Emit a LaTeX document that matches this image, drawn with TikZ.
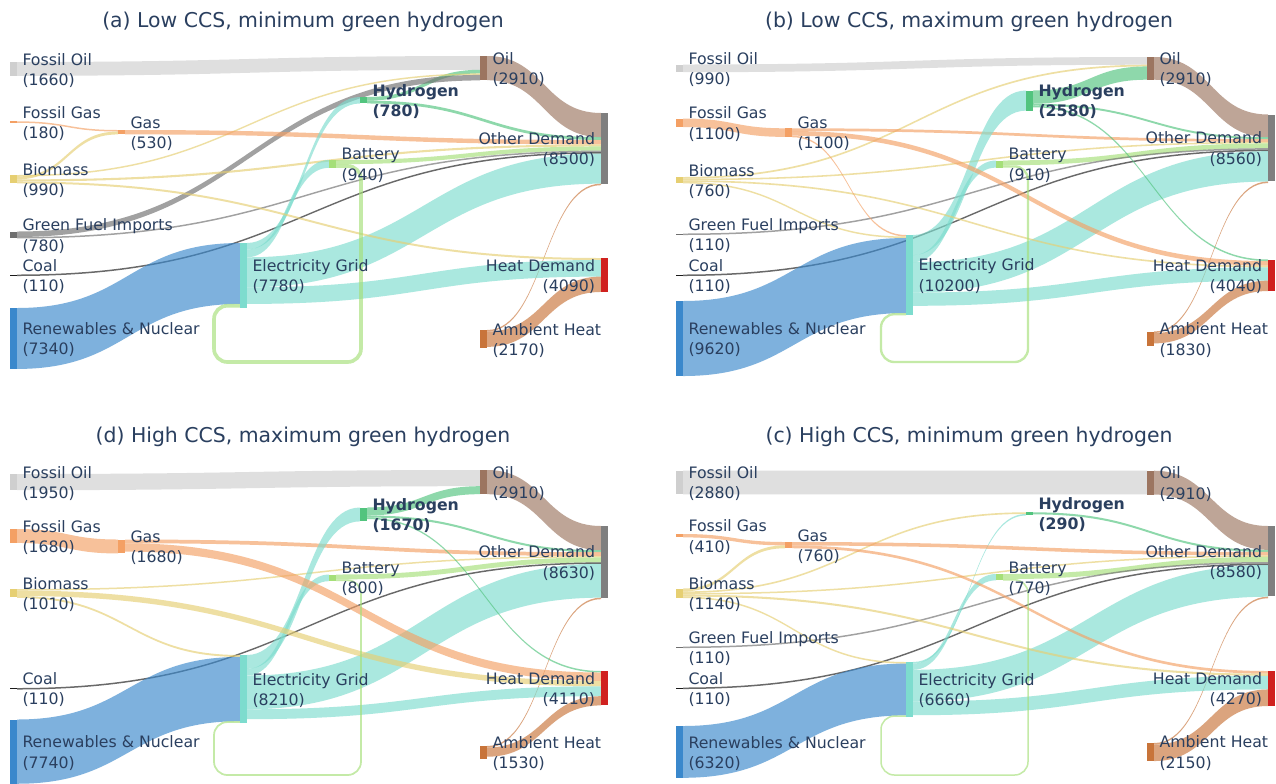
\documentclass[tikz,border=0pt]{standalone}
\usepackage{fontspec}
\setmainfont{DejaVu Sans}
\usetikzlibrary{calc}

% palette
\definecolor{ink}{HTML}{2A3F5F}
\definecolor{cFossilOil}{HTML}{CFCFCF}
\definecolor{cGas}{HTML}{F4A064}
\definecolor{cBio}{HTML}{E6CF72}
\definecolor{cGFI}{HTML}{6F6F6F}
\definecolor{cCoal}{HTML}{1A1A1A}
\definecolor{cRenew}{HTML}{3A88CC}
\definecolor{cElec}{HTML}{7DDCCE}
\definecolor{cHtwo}{HTML}{52C47E}
\definecolor{cBatt}{HTML}{A5DF78}
\definecolor{cOil}{HTML}{9C7560}
\definecolor{cAmb}{HTML}{C8743A}
\definecolor{cOther}{HTML}{7F7F7F}
\definecolor{cHeat}{HTML}{D0211F}

\pgfdeclarelayer{front}
\pgfsetlayers{main,front}

\tikzset{
  flowband/.style={fill=#1, fill opacity=0.65, draw=none},
  flowloop/.style={draw=#1, draw opacity=0.65, rounded corners=10pt},
  sbar/.style={fill=#1, draw=none, inner sep=0pt, outer sep=0pt,
    minimum width=5.25pt, anchor=north west},
  lbl/.style={text=ink, inner sep=0pt, outer sep=0pt,
    font=\fontsize{11.8}{15.2}\selectfont},
  lblbold/.style={lbl, font=\fontsize{11.8}{15.2}\selectfont\bfseries},
  ttl/.style={text=ink, inner sep=0pt, font=\fontsize{15.3}{18}\selectfont},
}

% pixels per unit of energy, set per panel
\newcommand\skscale{0.0083}
% thinnest band drawn, in pixels
\newcommand\skmin{1.5}

% \snode{name}{x}{y top}{value}{colour}: a node bar; keeps running offsets
\newcommand\snode[5]{%
  \pgfmathsetmacro\skbarh{max(#4*\skscale,0.9)*0.75}%
  \expandafter\xdef\csname so@#1\endcsname{0}%
  \expandafter\xdef\csname si@#1\endcsname{0}%
  \begin{pgfonlayer}{front}%
    \node[sbar=#5, minimum height=\skbarh pt] (#1) at (#2,#3) {};%
  \end{pgfonlayer}%
}

% \sflow{from}{to}{value}{colour}: a band stacked on both node sides
\newcommand\sflow[4]{%
  \pgfmathsetmacro\skbw{max(#3*\skscale,\skmin)}%
  \edef\skoa{\csname so@#1\endcsname}%
  \edef\skob{\csname si@#2\endcsname}%
  \pgfmathsetmacro\skoaa{\skoa+\skbw}%
  \pgfmathsetmacro\skobb{\skob+\skbw}%
  \fill[flowband=#4] let
      \p1=($(#1.north east)+(0,\skoa)$),
      \p2=($(#2.north west)+(0,\skob)$),
      \p3=($(#1.north east)+(0,\skoaa)$),
      \p4=($(#2.north west)+(0,\skobb)$),
      \p5=($(\p1)!0.5!(\p2)$)
    in (\p1) .. controls (\x5,\y1) and (\x5,\y2) .. (\p2)
       -- (\p4) .. controls (\x5,\y4) and (\x5,\y3) .. (\p3) -- cycle;%
  \expandafter\xdef\csname so@#1\endcsname{\skoaa}%
  \expandafter\xdef\csname si@#2\endcsname{\skobb}%
}

% \sloop{from}{to}{value}{colour}{x of return run}{y of bottom run}
\newcommand\sloop[6]{%
  \pgfmathsetmacro\skbw{max(#3*\skscale,\skmin)}%
  \edef\skoa{\csname so@#1\endcsname}%
  \edef\skob{\csname si@#2\endcsname}%
  \pgfmathsetmacro\skoam{\skoa+0.5*\skbw}%
  \pgfmathsetmacro\skobm{\skob+0.5*\skbw}%
  \pgfmathsetmacro\sklw{\skbw*0.75}%
  \draw[flowloop=#4, line width=\sklw pt] let
      \p1=($(#1.north east)+(0,\skoam)$),
      \p2=($(#2.north west)+(0,\skobm)$)
    in (\p1) -- ++(25,0) |- (#5,#6) |- (\p2);%
  \pgfmathsetmacro\skoaa{\skoa+\skbw}%
  \pgfmathsetmacro\skobb{\skob+\skbw}%
  \expandafter\xdef\csname so@#1\endcsname{\skoaa}%
  \expandafter\xdef\csname si@#2\endcsname{\skobb}%
}

% labels right or left of a node bar
\newcommand\slabR[3][lbl]{%
  \begin{pgfonlayer}{front}%
  \node[#1, anchor=west, align=left] (#2-t) at ($(#2.east)+(5.5,1.3)$) {#3};%
  \end{pgfonlayer}}
\newcommand\slabL[2]{%
  \begin{pgfonlayer}{front}%
  \node[lbl, anchor=east, align=right] (#1-t) at ($(#1.west)+(-6,1.3)$) {#2};%
  \end{pgfonlayer}}

\begin{document}
\begin{tikzpicture}[x=0.75pt, y=-0.75pt]
\fill[white] (0,0) rectangle (1276,783);
\useasboundingbox (0,0) rectangle (1276,783);

% ---------------- (a) Low CCS, minimum green hydrogen
\node[ttl] (tA) at (303,21.5) {(a) Low CCS, minimum green hydrogen};
\renewcommand\skscale{0.0083}
\snode{aFO}{10}{62}{1660}{cFossilOil}
\snode{aFG}{10}{121.3}{180}{cGas}
\snode{aBio}{10}{175}{990}{cBio}
\snode{aGFI}{10}{231.5}{780}{cGFI}
\snode{aCoal}{10}{274.5}{110}{cCoal}
\snode{aRen}{10}{308}{7340}{cRenew}
\snode{aGas}{118}{130}{530}{cGas}
\snode{aEl}{240}{243}{7780}{cElec}
\snode{aBat}{329}{160}{940}{cBatt}
\snode{aH}{360}{97}{780}{cHtwo}
\snode{aOil}{480}{56}{2910}{cOil}
\snode{aAmb}{480}{330}{2170}{cAmb}
\snode{aOth}{601}{113}{8500}{cOther}
\snode{aHeat}{601}{258}{4090}{cHeat}

\sflow{aFO}{aOil}{1660}{cFossilOil}
\sflow{aH}{aOil}{440}{cHtwo}
\sflow{aBio}{aOil}{150}{cBio}
\sflow{aGFI}{aOil}{660}{cGFI}
\sflow{aFG}{aGas}{180}{cGas}
\sflow{aBio}{aGas}{350}{cBio}
\sflow{aOil}{aOth}{2910}{cOil}
\sflow{aH}{aOth}{340}{cHtwo}
\sflow{aGas}{aOth}{530}{cGas}
\sflow{aBio}{aOth}{250}{cBio}
\sflow{aBat}{aOth}{500}{cBatt}
\sflow{aGFI}{aOth}{120}{cGFI}
\sflow{aCoal}{aOth}{110}{cCoal}
\sflow{aEl}{aH}{780}{cElec}
\sflow{aEl}{aBat}{940}{cElec}
\sflow{aEl}{aOth}{3620}{cElec}
\sflow{aAmb}{aOth}{120}{cAmb}
\sflow{aBio}{aHeat}{240}{cBio}
\sflow{aEl}{aHeat}{2000}{cElec}
\sflow{aAmb}{aHeat}{1850}{cAmb}
\sflow{aRen}{aEl}{7340}{cRenew}
\sloop{aBat}{aEl}{440}{cBatt}{214}{362}

\slabR{aFO}{Fossil Oil\\(1660)}
\slabR{aFG}{Fossil Gas\\(180)}
\slabR{aBio}{Biomass\\(990)}
\slabR{aGFI}{Green Fuel Imports\\(780)}
\slabR{aCoal}{Coal\\(110)}
\slabR{aRen}{Renewables \& Nuclear\\(7340)}
\slabR{aGas}{Gas\\(530)}
\slabR{aEl}{Electricity Grid\\(7780)}
\slabR{aBat}{Battery\\(940)}
\slabR[lblbold]{aH}{Hydrogen\\(780)}
\slabR{aOil}{Oil\\(2910)}
\slabR{aAmb}{Ambient Heat\\(2170)}
\slabL{aOth}{Other Demand\\(8500)}
\slabL{aHeat}{Heat Demand\\(4090)}

% ---------------- (b) Low CCS, maximum green hydrogen
\node[ttl] (tB) at (969,21.5) {(b) Low CCS, maximum green hydrogen};
\renewcommand\skscale{0.0078}
\snode{bFO}{676}{64.5}{990}{cFossilOil}
\snode{bFG}{676}{118.5}{1100}{cGas}
\snode{bBio}{676}{177}{760}{cBio}
\snode{bGFI}{676}{233.5}{110}{cGFI}
\snode{bCoal}{676}{274.5}{110}{cCoal}
\snode{bRen}{676}{301}{9620}{cRenew}
\snode{bGas}{785}{128.3}{1100}{cGas}
\snode{bEl}{906}{235}{10200}{cElec}
\snode{bBat}{996}{160.5}{910}{cBatt}
\snode{bH}{1026}{90.5}{2580}{cHtwo}
\snode{bOil}{1147}{57}{2910}{cOil}
\snode{bAmb}{1147}{331.5}{1830}{cAmb}
\snode{bOth}{1268}{114.5}{8560}{cOther}
\snode{bHeat}{1268}{259.5}{4040}{cHeat}

\sflow{bFO}{bOil}{990}{cFossilOil}
\sflow{bBio}{bOil}{220}{cBio}
\sflow{bH}{bOil}{1700}{cHtwo}
\sflow{bFG}{bGas}{1100}{cGas}
\sflow{bOil}{bOth}{2910}{cOil}
\sflow{bH}{bOth}{250}{cHtwo}
\sflow{bGas}{bOth}{350}{cGas}
\sflow{bBio}{bOth}{200}{cBio}
\sflow{bBat}{bOth}{610}{cBatt}
\sflow{bGFI}{bOth}{110}{cGFI}
\sflow{bCoal}{bOth}{110}{cCoal}
\sflow{bEl}{bH}{2580}{cElec}
\sflow{bEl}{bBat}{910}{cElec}
\sflow{bEl}{bOth}{3890}{cElec}
\sflow{bAmb}{bOth}{130}{cAmb}
\sflow{bH}{bHeat}{200}{cHtwo}
\sflow{bGas}{bHeat}{600}{cGas}
\sflow{bBio}{bHeat}{210}{cBio}
\sflow{bEl}{bHeat}{1700}{cElec}
\sflow{bAmb}{bHeat}{1330}{cAmb}
\sflow{bGas}{bEl}{150}{cGas}
\sflow{bBio}{bEl}{130}{cBio}
\sflow{bRen}{bEl}{9620}{cRenew}
\sloop{bBat}{bEl}{300}{cBatt}{881}{362}

\slabR{bFO}{Fossil Oil\\(990)}
\slabR{bFG}{Fossil Gas\\(1100)}
\slabR{bBio}{Biomass\\(760)}
\slabR{bGFI}{Green Fuel Imports\\(110)}
\slabR{bCoal}{Coal\\(110)}
\slabR{bRen}{Renewables \& Nuclear\\(9620)}
\slabR{bGas}{Gas\\(1100)}
\slabR{bEl}{Electricity Grid\\(10200)}
\slabR{bBat}{Battery\\(910)}
\slabR[lblbold]{bH}{Hydrogen\\(2580)}
\slabR{bOil}{Oil\\(2910)}
\slabR{bAmb}{Ambient Heat\\(1830)}
\slabL{bOth}{Other Demand\\(8560)}
\slabL{bHeat}{Heat Demand\\(4040)}

% ---------------- (d) High CCS, maximum green hydrogen
\node[ttl] (tD) at (303,436.5) {(d) High CCS, maximum green hydrogen};
\renewcommand\skscale{0.0083}
\snode{dFO}{10}{474}{1950}{cFossilOil}
\snode{dFG}{10}{529}{1680}{cGas}
\snode{dBio}{10}{589}{1010}{cBio}
\snode{dCoal}{10}{688}{110}{cCoal}
\snode{dRen}{10}{719.5}{7740}{cRenew}
\snode{dGas}{118}{539.5}{1680}{cGas}
\snode{dEl}{240}{655}{8210}{cElec}
\snode{dBat}{329}{574.5}{800}{cBatt}
\snode{dH}{360}{507.5}{1670}{cHtwo}
\snode{dOil}{480}{470}{2910}{cOil}
\snode{dAmb}{480}{746}{1530}{cAmb}
\snode{dOth}{601}{526}{8630}{cOther}
\snode{dHeat}{601}{671}{4110}{cHeat}

\sflow{dFO}{dOil}{1950}{cFossilOil}
\sflow{dH}{dOil}{960}{cHtwo}
\sflow{dFG}{dGas}{1680}{cGas}
\sflow{dOil}{dOth}{2910}{cOil}
\sflow{dH}{dOth}{250}{cHtwo}
\sflow{dGas}{dOth}{450}{cGas}
\sflow{dBio}{dOth}{120}{cBio}
\sflow{dBat}{dOth}{590}{cBatt}
\sflow{dCoal}{dOth}{110}{cCoal}
\sflow{dEl}{dH}{1670}{cElec}
\sflow{dEl}{dBat}{800}{cElec}
\sflow{dEl}{dOth}{4070}{cElec}
\sflow{dAmb}{dOth}{130}{cAmb}
\sflow{dH}{dHeat}{150}{cHtwo}
\sflow{dGas}{dHeat}{1000}{cGas}
\sflow{dBio}{dHeat}{660}{cBio}
\sflow{dEl}{dHeat}{1190}{cElec}
\sflow{dAmb}{dHeat}{1110}{cAmb}
\sflow{dBio}{dEl}{230}{cBio}
\sflow{dRen}{dEl}{7740}{cRenew}
\sloop{dBat}{dEl}{210}{cBatt}{214}{775}

\slabR{dFO}{Fossil Oil\\(1950)}
\slabR{dFG}{Fossil Gas\\(1680)}
\slabR{dBio}{Biomass\\(1010)}
\slabR{dCoal}{Coal\\(110)}
\slabR{dRen}{Renewables \& Nuclear\\(7740)}
\slabR{dGas}{Gas\\(1680)}
\slabR{dEl}{Electricity Grid\\(8210)}
\slabR{dBat}{Battery\\(800)}
\slabR[lblbold]{dH}{Hydrogen\\(1670)}
\slabR{dOil}{Oil\\(2910)}
\slabR{dAmb}{Ambient Heat\\(1530)}
\slabL{dOth}{Other Demand\\(8630)}
\slabL{dHeat}{Heat Demand\\(4110)}

% ---------------- (c) High CCS, minimum green hydrogen
\node[ttl] (tC) at (969,436.5) {(c) High CCS, minimum green hydrogen};
\renewcommand\skscale{0.0082}
\snode{cFO}{676}{470.7}{2880}{cFossilOil}
\snode{cFG}{676}{534}{410}{cGas}
\snode{cBio}{676}{588.5}{1140}{cBio}
\snode{cGFI}{676}{646.5}{110}{cGFI}
\snode{cCoal}{676}{687.5}{110}{cCoal}
\snode{cRen}{676}{726}{6320}{cRenew}
\snode{cGas}{785}{542}{760}{cGas}
\snode{cEl}{906}{662}{6660}{cElec}
\snode{cBat}{996}{574}{770}{cBatt}
\snode{cH}{1026}{512.3}{290}{cHtwo}
\snode{cOil}{1147}{470.7}{2910}{cOil}
\snode{cAmb}{1147}{743}{2150}{cAmb}
\snode{cOth}{1268}{526}{8580}{cOther}
\snode{cHeat}{1268}{671}{4270}{cHeat}

\sflow{cFO}{cOil}{2880}{cFossilOil}
\sflow{cFG}{cGas}{410}{cGas}
\sflow{cBio}{cGas}{350}{cBio}
\sflow{cBio}{cH}{200}{cBio}
\sflow{cEl}{cH}{90}{cElec}
\sflow{cOil}{cOth}{2910}{cOil}
\sflow{cH}{cOth}{250}{cHtwo}
\sflow{cGas}{cOth}{430}{cGas}
\sflow{cBio}{cOth}{150}{cBio}
\sflow{cBat}{cOth}{620}{cBatt}
\sflow{cGFI}{cOth}{110}{cGFI}
\sflow{cCoal}{cOth}{110}{cCoal}
\sflow{cEl}{cBat}{770}{cElec}
\sflow{cEl}{cOth}{3870}{cElec}
\sflow{cAmb}{cOth}{130}{cAmb}
\sflow{cGas}{cHeat}{330}{cGas}
\sflow{cBio}{cHeat}{250}{cBio}
\sflow{cEl}{cHeat}{1670}{cElec}
\sflow{cAmb}{cHeat}{2020}{cAmb}
\sflow{cBio}{cEl}{190}{cBio}
\sflow{cRen}{cEl}{6320}{cRenew}
\sloop{cBat}{cEl}{150}{cBatt}{881}{775}

\slabR{cFO}{Fossil Oil\\(2880)}
\slabR{cFG}{Fossil Gas\\(410)}
\slabR{cBio}{Biomass\\(1140)}
\slabR{cGFI}{Green Fuel Imports\\(110)}
\slabR{cCoal}{Coal\\(110)}
\slabR{cRen}{Renewables \& Nuclear\\(6320)}
\slabR{cGas}{Gas\\(760)}
\slabR{cEl}{Electricity Grid\\(6660)}
\slabR{cBat}{Battery\\(770)}
\slabR[lblbold]{cH}{Hydrogen\\(290)}
\slabR{cOil}{Oil\\(2910)}
\slabR{cAmb}{Ambient Heat\\(2150)}
\slabL{cOth}{Other Demand\\(8580)}
\slabL{cHeat}{Heat Demand\\(4270)}
\end{tikzpicture}
\end{document}
